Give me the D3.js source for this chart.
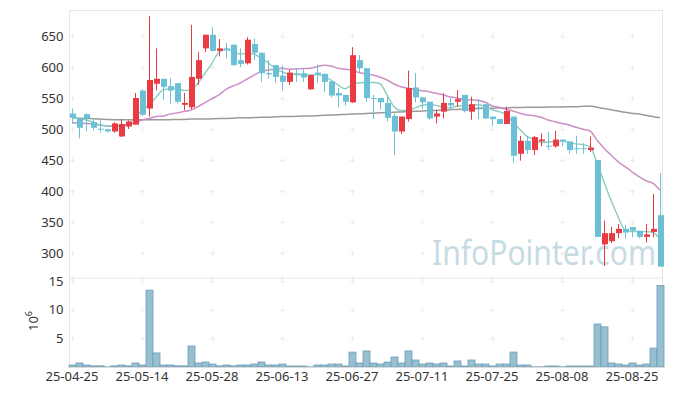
<!DOCTYPE html>
<html>
<head>
<meta charset="utf-8">
<script src="https://cdnjs.cloudflare.com/ajax/libs/d3/7.8.5/d3.min.js"></script>
<style>
body { margin: 0; background: #fff; }
text { font-family: "Noto Sans", sans-serif; }
</style>
</head>
<body>
<div id="mainvis"></div>
<script>
const dates = [
    "25-04-25","25-04-28","25-04-29","25-04-30","25-05-02","25-05-07","25-05-08","25-05-09","25-05-12","25-05-13",
    "25-05-14","25-05-15","25-05-16","25-05-19","25-05-20","25-05-21","25-05-22","25-05-23","25-05-26","25-05-27",
    "25-05-28","25-05-29","25-05-30","25-06-02","25-06-04","25-06-05","25-06-09","25-06-10","25-06-11","25-06-12",
    "25-06-13","25-06-16","25-06-17","25-06-18","25-06-19","25-06-20","25-06-23","25-06-24","25-06-25","25-06-26",
    "25-06-27","25-06-30","25-07-01","25-07-02","25-07-03","25-07-04","25-07-07","25-07-08","25-07-09","25-07-10",
    "25-07-11","25-07-14","25-07-15","25-07-16","25-07-17","25-07-18","25-07-21","25-07-22","25-07-23","25-07-24",
    "25-07-25","25-07-28","25-07-29","25-07-30","25-07-31","25-08-01","25-08-04","25-08-05","25-08-06","25-08-07",
    "25-08-08","25-08-11","25-08-12","25-08-13","25-08-14","25-08-18","25-08-19","25-08-20","25-08-21","25-08-22",
    "25-08-25","25-08-26","25-08-27","25-08-28","25-08-29"
];

const open = [525,517,524,511,500.5,499.5,496,488,504,507, 562,533,573,581,569,574,539,535,581,630,
    652,626,630,636,611,606,637,623,590,603, 586,576,590,590,564,591,589,577,558,555,
    543,611,598,550,550,542,521,496,516,567, 551,544,520,528,542,544,555,528,535,540,
    520,516,508,520,460,481,466,480,473,472, 483,480,469,469,466,450,314,319,332,339,
    342,336,326,334,361];
const high = [533,518,525,517,516,500,511,516,514,558, 564,682,630,581,582,574,558,668,624,652,
    664,645,639,636,630,648,646,623,611,603, 602,595,598,598,587,604,589,577,566,555,
    632,619,598,555,550,552,525,520,594,590, 551,544,531,558,550,563,555,552,548,540,
    520,516,536,520,489,489,489,493,496,497, 483,480,489,477,488,450,352,342,347,345,
    342,336,347,395,429];
const low = [509,485,496,498,494,494,494,487,500,507, 521,520,562,547,540,541,530,532,571,624,
    625,617,614,602,600,604,611,576,581,575, 562,571,576,576,563,575,560,551,535,538,
    542,592,544,516,531,512,458,492,512,543, 532,515,509,517,531,536,527,515,516,516,
    505,508,508,446,449,460,458,472,466,470, 472,460,460,460,463,326,279,316,324,324,
    325,324,317,325,278];
const close = [518,502,517,502,499,496,509,508,512,550, 523,579,581,568,562,544,542,584,611,652,
    626,630,627,603,605,644,623,590,588,584, 576,591,588,583,587,588,576,554,554,544,
    619,598,550,549,543,518,496,520,566,551, 543,517,525,542,538,548,529,540,534,517,
    516,508,529,457,481,466,487,483,472,483, 480,466,468,468,470,326,332,332,339,333,
    336,326,330,339,278];

// volume in millions
const volume = [0.35,0.7,0.35,0.2,0.2,0.03,0.2,0.35,0.2,0.7, 0.35,13.4,2.45,0.35,0.35,0.2,0.2,3.66,0.7,0.87,
    0.52,0.2,0.35,0.2,0.35,0.35,0.52,0.87,0.35,0.35, 0.52,0.17,0.17,0.17,0.03,0.35,0.35,0.52,0.52,0.17,
    2.6,0.7,2.8,0.7,0.52,0.87,1.74,0.7,2.8,1.22, 0.52,0.7,0.52,0.7,0.17,1.05,0.17,1.22,0.52,0.52,
    0.17,0.52,0.52,2.6,0.35,0.35,0.03,0.03,0.17,0.17, 0.03,0.17,0.17,0.17,0.17,7.5,7.0,0.7,0.52,0.35,
    0.7,0.35,0.52,3.3,14.2];

const ma5 = [519,517,514.5,511,506.5,505,504,504,508,519, 530,539,551,563,565,566,562,563,574,590,
    606,624,628.5,625,621,622,621,614,607,598, 592,588.7,588,587.5,587,588,585,579,571,565,
    571,574.5,575,575,573,555,536,530,530,534, 538,540,538,535,534,537,537,538,539,536,
    531,528,523,510,499,488,483,478,479,480, 480.5,478,476,475,471.5,445,415,385,359,337,
    334.5,334.5,334.5,333,322];
const ma20 = [510,509.7,509,508,506.5,505,505,505.5,507.5,510, 514.5,517,520,521,524,526,528,530.7,536,542.5,
    549,555,564,569.4,573.7,580.6,587,592.5,595,596.5, 598,596.5,597,597.5,598,600.5,603,601.5,598,596.5,
    595,591,589,587,583.4,579,572.6,568.2,565.6,564, 561.8,560.2,557.6,555,552,550,548,547,546,543.5,
    537,535,531.8,529,525.3,522.6,521.5,518.9,514.5,511.8, 509,506.5,502.7,499.5,496.8,482.3,469,458,447.3,439.3,
    431,423,416.6,412.4,401.6];
const ma60 = [518,517.5,517,516.5,516,515.5,515,515,515,515, 515,515,515,515,515,515.5,515.5,516,516,516,
    516.5,517,517,517.5,518,518,518.5,519,519,519.5, 520,520,520.5,521,521,521.5,522,522.5,523,523.5,
    524,524.5,525,525.5,526,526.5,527,527.5,528,528.5, 529,529.5,530,530.5,531,531.5,532,532.5,533,533.5,
    533.5,534,534,534.5,534.5,535,535,535,535.5,535.5, 535.5,536,536,536.5,537,535,533,531,529,527,
    525.5,524,522,520,518];

const priceTicks = [300, 350, 400, 450, 500, 550, 600, 650];
const volTicks = [5, 10, 15];
const dateTicks = ["25-04-25","25-05-14","25-05-28","25-06-13","25-06-27","25-07-11","25-07-25","25-08-08","25-08-25"];

let svg = d3.select("#mainvis")
    .append("svg")
    .attr("width", 673)
    .attr("height", 396);

let plotLeft = 69.5, plotRight = 662.5, plotTop = 10.5, plotMid = 278, plotBottom = 367;

let xScale = d3.scaleBand().domain(dates).range([68.5, 663.5]);
let cx = d => xScale(d) + xScale.bandwidth() / 2;
let yScale = d3.scaleLinear().domain([259.7, 691.9]).range([plotMid, plotTop - 0.5]);
let vScale = d3.scaleLinear().domain([0, 15.52]).range([plotBottom, plotMid]);

// panel frames
svg.append("rect")
    .attr("x", plotLeft).attr("y", plotTop)
    .attr("width", plotRight - plotLeft).attr("height", plotMid - plotTop)
    .style("fill", "none").style("stroke", "#e6e6e6");
svg.append("line")
    .attr("x1", plotRight).attr("x2", plotRight).attr("y1", plotMid).attr("y2", plotBottom)
    .style("stroke", "#e6e6e6");
svg.append("line")
    .attr("x1", plotLeft).attr("x2", plotLeft).attr("y1", plotMid).attr("y2", plotBottom)
    .style("stroke", "#e6e6e6");

// grid: small crosses at intersections
let grid = svg.append("g").attr("class", "grid");
let gridYs = priceTicks.map(v => yScale(v)).concat(volTicks.map(v => vScale(v))).concat([plotMid]);
dateTicks.forEach(dt => {
    let gx = Math.round(cx(dt)) + 0.5;
    gridYs.forEach(gy => {
        gy = Math.round(gy) + 0.5;
        grid.append("line").attr("x1", gx - 2.5).attr("x2", gx + 2.5).attr("y1", gy).attr("y2", gy)
            .style("stroke", "#ebebeb");
        grid.append("line").attr("x1", gx).attr("x2", gx).attr("y1", gy - 2.5).attr("y2", gy + 2.5)
            .style("stroke", "#ebebeb");
    });
});

// watermark
svg.append("text")
    .attr("x", 432)
    .attr("y", 265)
    .attr("textLength", 224)
    .attr("lengthAdjust", "spacingAndGlyphs")
    .style("font-size", "34px")
    .style("fill", "#c7dbe5")
    .text("InfoPointer.com");

// moving averages
let maLine = arr => d3.line()
    .x((d, i) => cx(dates[i]))
    .y(d => yScale(d))
    .curve(d3.curveMonotoneX)(arr);

svg.append("path").attr("d", maLine(ma60))
    .style("fill", "none").style("stroke", "#9a9a9a").style("stroke-width", 1.5);
svg.append("path").attr("d", maLine(ma20))
    .style("fill", "none").style("stroke", "#cc8fc6").style("stroke-width", 1.5);
svg.append("path").attr("d", maLine(ma5))
    .style("fill", "none").style("stroke", "#8acdc2").style("stroke-width", 1.4);

// candles
let upColor = "#ea3a42", downColor = "#6cc0d6";
let candle = svg.selectAll(".candle")
    .data(dates)
    .enter()
    .append("g")
    .attr("class", "candle");

candle.append("line")
    .attr("x1", d => Math.round(cx(d)) + 0.5)
    .attr("x2", d => Math.round(cx(d)) + 0.5)
    .attr("y1", (d, i) => yScale(high[i]))
    .attr("y2", (d, i) => yScale(low[i]))
    .style("stroke", (d, i) => close[i] > open[i] ? upColor : downColor)
    .style("stroke-width", 1);

candle.append("rect")
    .attr("x", d => Math.round(cx(d)) - 2)
    .attr("width", 6)
    .attr("y", (d, i) => yScale(Math.max(open[i], close[i])))
    .attr("height", (d, i) => Math.max(1, Math.abs(yScale(open[i]) - yScale(close[i]))))
    .style("fill", (d, i) => close[i] > open[i] ? upColor : downColor);

// volume bars
svg.selectAll(".volbar")
    .data(dates)
    .enter()
    .append("rect")
    .attr("class", "volbar")
    .attr("x", d => Math.round(cx(d)) - 3)
    .attr("width", 7)
    .attr("y", (d, i) => vScale(volume[i]))
    .attr("height", (d, i) => plotBottom - vScale(volume[i]))
    .style("fill", "#97bfd0")
    .style("stroke", "#6f9fb6")
    .style("stroke-width", 0.8);

// axes
let yAxis = svg.append("g")
    .attr("transform", "translate(" + plotLeft + ",0)")
    .call(d3.axisLeft(yScale).tickValues(priceTicks).tickSize(0).tickPadding(6));
let vAxis = svg.append("g")
    .attr("transform", "translate(" + plotLeft + ",0)")
    .call(d3.axisLeft(vScale).tickValues(volTicks).tickSize(0).tickPadding(6));
let xAxis = svg.append("g")
    .attr("transform", "translate(0," + plotBottom + ")")
    .call(d3.axisBottom(xScale).tickValues(dateTicks).tickSize(0).tickPadding(5));

[yAxis, vAxis].forEach(a => a.select(".domain").remove());
xAxis.select(".domain").attr("d", "M" + plotLeft + ",0.5H" + plotRight).style("stroke", "#dcdcdc");
svg.selectAll(".tick text")
    .style("font-family", "\"Noto Sans\", sans-serif")
    .style("font-size", "13px")
    .style("fill", "#333");

// volume unit label
let unit = svg.append("text")
    .attr("transform", "translate(38, 321) rotate(-90)")
    .attr("text-anchor", "middle")
    .style("font-size", "13px")
    .style("fill", "#333");
unit.append("tspan").text("10");
unit.append("tspan").attr("dy", -6).style("font-size", "9px").text("6");
</script>
</body>
</html>
